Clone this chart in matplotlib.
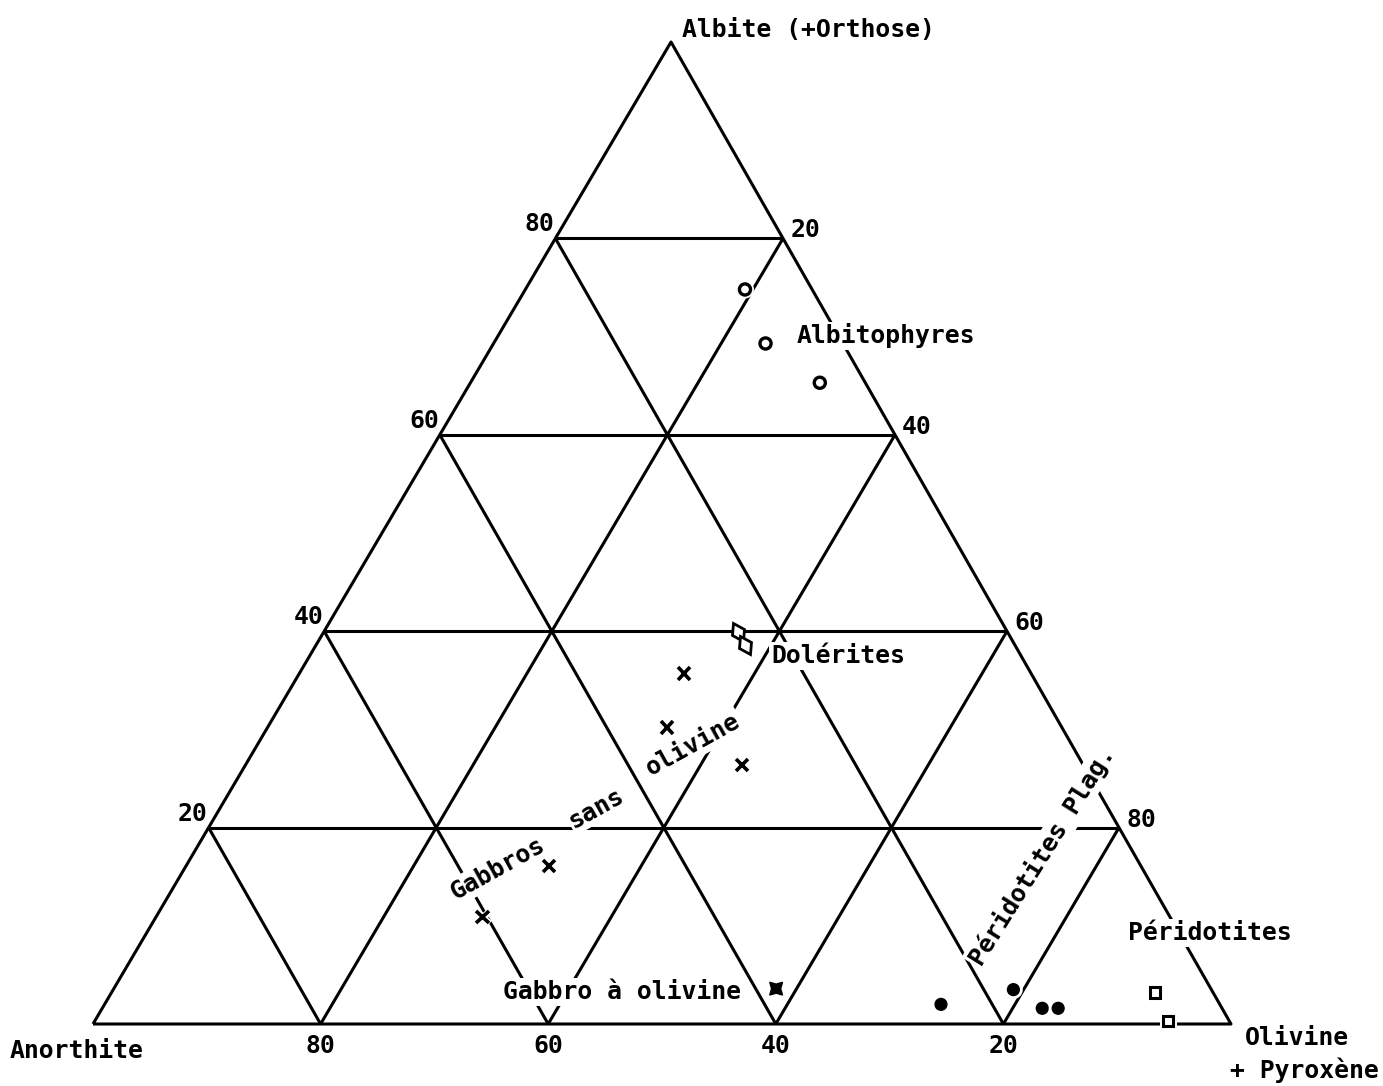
import matplotlib
matplotlib.use("Agg")
import matplotlib.pyplot as plt
from matplotlib.markers import MarkerStyle
from matplotlib.transforms import Affine2D
import matplotlib.patheffects as pe

plt.rcParams['font.family'] = ['DejaVu Sans Mono', 'DejaVu Sans']

# Ternary compositions in percent: Anorthite / Olivine+Pyroxène / Albite
albitophyres_an = [5.9, 6.8, 4.0]
albitophyres_ol = [19.3, 23.9, 30.7]
albitophyres_ab = [74.8, 69.3, 65.3]

dolerites_an = [23.7, 23.7]
dolerites_ol = [36.4, 37.7]
dolerites_ab = [39.9, 38.6]

gabbros_an = [30.5, 34.7, 30.0, 52.0, 60.4]
gabbros_ol = [33.8, 35.1, 43.6, 31.9, 28.7]
gabbros_ab = [35.7, 30.2, 26.4, 16.1, 10.9]

gabbro_olv_an = [38.2]
gabbro_olv_ol = [58.2]
gabbro_olv_ab = [3.6]

perid_plag_an = [24.5, 17.4, 15.8, 14.4]
perid_plag_ol = [73.5, 79.1, 82.6, 84.0]
perid_plag_ab = [2.0, 3.5, 1.6, 1.6]

peridotites_an = [5.1, 5.4]
peridotites_ol = [91.7, 94.3]
peridotites_ab = [3.2, 0.3]

grid_values = [20, 40, 60, 80]
left_labels = ['80', '60', '40', '20']     # Albite along left side
right_labels = ['20', '40', '60', '80']    # Olivine along right side
bottom_labels = ['80', '60', '40', '20']   # Anorthite along base

# Corner positions of the diagram on the canvas
P_AN = (93.0, 1024.0)
P_OL = (1231.0, 1024.0)
P_AB = (671.0, 42.0)


def tern(an, ol, ab):
    """Percent composition -> canvas coordinates."""
    if isinstance(an, (list, tuple)):
        pts = [tern(a, o, b) for a, o, b in zip(an, ol, ab)]
        return [p[0] for p in pts], [p[1] for p in pts]
    s = an + ol + ab
    a, o, b = an / s, ol / s, ab / s
    x = a * P_AN[0] + o * P_OL[0] + b * P_AB[0]
    y = a * P_AN[1] + o * P_OL[1] + b * P_AB[1]
    return x, y


fig = plt.figure(figsize=(13.83, 10.86), dpi=100)
ax = fig.add_axes([0, 0, 1, 1])
ax.set_xlim(0, 1383)
ax.set_ylim(1086, 0)
ax.axis('off')

LW = 2.2
line_kw = dict(color='black', lw=LW, solid_capstyle='butt', zorder=2)

# Outline
xs, ys = tern([100, 0, 0, 100], [0, 100, 0, 0], [0, 0, 100, 0])
ax.plot(xs, ys, **line_kw)

# 20 % grid parallel to each side
for v in grid_values:
    w = 100 - v
    x, y = tern([w, 0], [0, w], [v, v])        # constant Albite
    ax.plot(x, y, **line_kw)
    x, y = tern([v, v], [w, 0], [0, w])        # constant Anorthite
    ax.plot(x, y, **line_kw)
    x, y = tern([w, 0], [v, v], [0, w])        # constant Olivine
    ax.plot(x, y, **line_kw)

FS = 17.8
txt_kw = dict(fontsize=FS, color='black', fontweight='bold', zorder=3)
box = dict(facecolor='white', edgecolor='none', pad=1.5)

# Scale numbers
for v, lab in zip(grid_values[::-1], left_labels):
    x, y = tern(100 - v, 0, v)
    ax.text(x - 16, y - 14, lab, ha='center', va='center', **txt_kw)
for v, lab in zip(grid_values, right_labels):
    x, y = tern(0, v, 100 - v)
    ax.text(x + 22, y - 8, lab, ha='center', va='center', **txt_kw)
for v, lab in zip(grid_values[::-1], bottom_labels):
    x, y = tern(v, 100 - v, 0)
    ax.text(x, y + 22, lab, ha='center', va='center', **txt_kw)

# Corner names
ax.text(682, 30, 'Albite (+Orthose)', ha='left', va='center', **txt_kw)
ax.text(10, 1051, 'Anorthite', ha='left', va='center', **txt_kw)
ax.text(1245, 1038, 'Olivine', ha='left', va='center', **txt_kw)
ax.text(1230, 1070, '+ Pyroxène', ha='left', va='center', **txt_kw)

# Field names
ax.text(886, 336, 'Albitophyres', ha='center', va='center', bbox=box, **txt_kw)
ax.text(838, 656, 'Dolérites', ha='center', va='center', bbox=box, **txt_kw)
ax.text(622, 992, 'Gabbro à olivine', ha='center', va='center', bbox=box, **txt_kw)
ax.text(1210, 933, 'Péridotites', ha='center', va='center', bbox=box, **txt_kw)
ax.text(1042, 856, 'Péridotites Plag.', ha='center', va='center', rotation=58,
        rotation_mode='anchor', bbox=box, **txt_kw)
for word, cx, cy in [('Gabbros', 498, 869), ('sans', 597, 808), ('olivine', 693, 745)]:
    ax.text(cx, cy, word, ha='center', va='center', rotation=29,
            rotation_mode='anchor', bbox=box, **txt_kw)

halo = [pe.withStroke(linewidth=5, foreground='white')]
mk = dict(linestyle='none', color='black', zorder=4, path_effects=halo)

x, y = tern(albitophyres_an, albitophyres_ol, albitophyres_ab)
ax.plot(x, y, marker='o', ms=8, mew=2.4, mfc='white', **mk)

x, y = tern(dolerites_an, dolerites_ol, dolerites_ab)
dmark = MarkerStyle('D', transform=Affine2D().scale(0.65, 1.0).rotate_deg(30))
ax.plot(x, y, marker=dmark, ms=10, mew=2.0, mfc='white', linestyle='none',
        color='black', zorder=4)

x, y = tern(gabbros_an, gabbros_ol, gabbros_ab)
ax.plot(x, y, marker='x', ms=9, mew=2.6, **mk)

x, y = tern(gabbro_olv_an, gabbro_olv_ol, gabbro_olv_ab)
ax.plot(x, y, marker=(4, 1, 45), ms=13, mew=1.0, **mk)

x, y = tern(perid_plag_an, perid_plag_ol, perid_plag_ab)
ax.plot(x, y, marker='o', ms=8.5, mew=1.0, mfc='black', **mk)

x, y = tern(peridotites_an, peridotites_ol, peridotites_ab)
ax.plot(x, y, marker='s', ms=7.5, mew=2.2, mfc='white', **mk)

fig.savefig('out.png', dpi=100, facecolor='white')
